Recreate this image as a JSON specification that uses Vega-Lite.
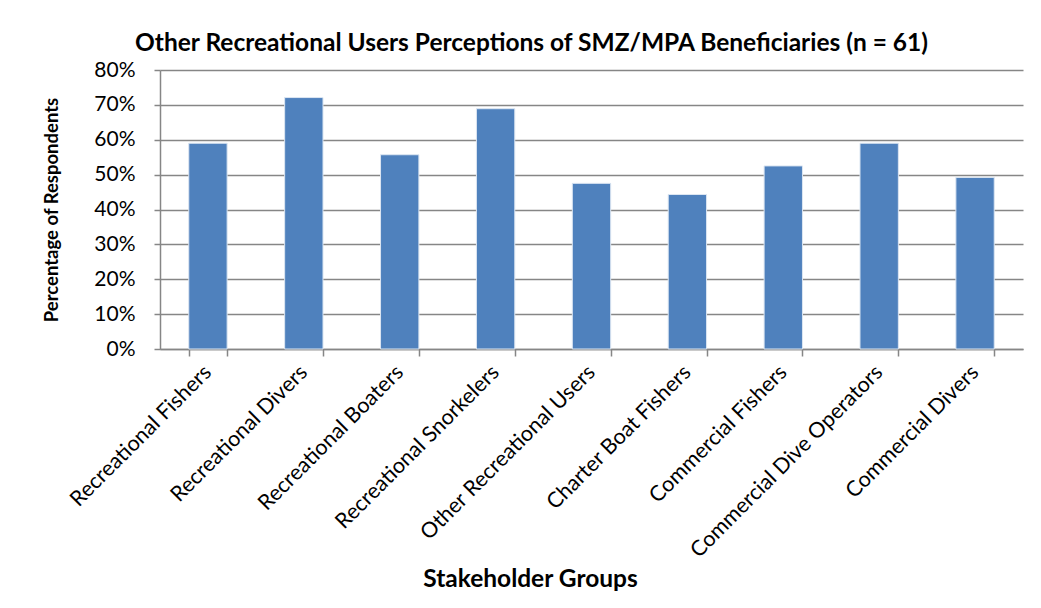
{
  "$schema": "https://vega.github.io/schema/vega-lite/v6.json",
  "autosize": {"type": "none"},
  "width": 863,
  "height": 279,
  "padding": {"left": 160, "top": 70, "right": 18, "bottom": 259},
  "background": "white",
  "title": {
    "text": "Other Recreational Users Perceptions of SMZ/MPA Beneficiaries (n = 61)",
    "font": "Lato",
    "fontSize": 24.5,
    "fontWeight": "bold",
    "color": "black",
    "anchor": "middle",
    "dx": -60,
    "offset": 3
  },
  "data": {
    "values": [
      {"group": "Recreational Fishers", "pct": 0.590},
      {"group": "Recreational Divers", "pct": 0.721},
      {"group": "Recreational Boaters", "pct": 0.557},
      {"group": "Recreational Snorkelers", "pct": 0.689},
      {"group": "Other Recreational Users", "pct": 0.475},
      {"group": "Charter Boat Fishers", "pct": 0.443},
      {"group": "Commercial Fishers", "pct": 0.525},
      {"group": "Commercial Dive Operators", "pct": 0.590},
      {"group": "Commercial Divers", "pct": 0.492}
    ]
  },
  "mark": {"type": "bar", "color": "#4F81BD", "stroke": "#dce6f2", "strokeWidth": 1},
  "encoding": {
    "x": {
      "field": "group",
      "type": "nominal",
      "sort": null,
      "scale": {"paddingInner": 0.6, "paddingOuter": 0.3},
      "axis": {
        "title": "Stakeholder Groups",
        "titleFont": "Lato",
        "titleFontSize": 24.5,
        "titleFontWeight": "bold",
        "titleColor": "black",
        "titleX": 370,
        "titleY": 242,
        "titleBaseline": "bottom",
        "labelFont": "Lato",
        "labelFontSize": 21.5,
        "labelColor": "black",
        "labelAngle": -45,
        "labelAlign": "right",
        "labelBaseline": "middle",
        "labelPadding": 13,
        "labelLimit": 0,
        "labelOverlap": false,
        "tickBand": "extent",
        "tickSize": 7,
        "tickColor": "#868686",
        "tickWidth": 1.5,
        "domainColor": "#868686",
        "domainWidth": 1.5,
        "grid": false
      }
    },
    "y": {
      "field": "pct",
      "type": "quantitative",
      "scale": {"domain": [0, 0.8]},
      "axis": {
        "title": "Percentage of Respondents",
        "titleFont": "Lato",
        "titleFontSize": 18.5,
        "titleFontWeight": "bold",
        "titleColor": "black",
        "titlePadding": 32,
        "format": ".0%",
        "values": [0, 0.1, 0.2, 0.3, 0.4, 0.5, 0.6, 0.7, 0.8],
        "labelFont": "Lato",
        "labelFontSize": 21,
        "labelColor": "black",
        "labelPadding": 19,
        "tickSize": 6,
        "tickColor": "#868686",
        "tickWidth": 1.5,
        "domainColor": "#868686",
        "domainWidth": 1.5,
        "grid": true,
        "gridColor": "#868686",
        "gridWidth": 1.5
      }
    }
  },
  "config": {"view": {"stroke": null}}
}
